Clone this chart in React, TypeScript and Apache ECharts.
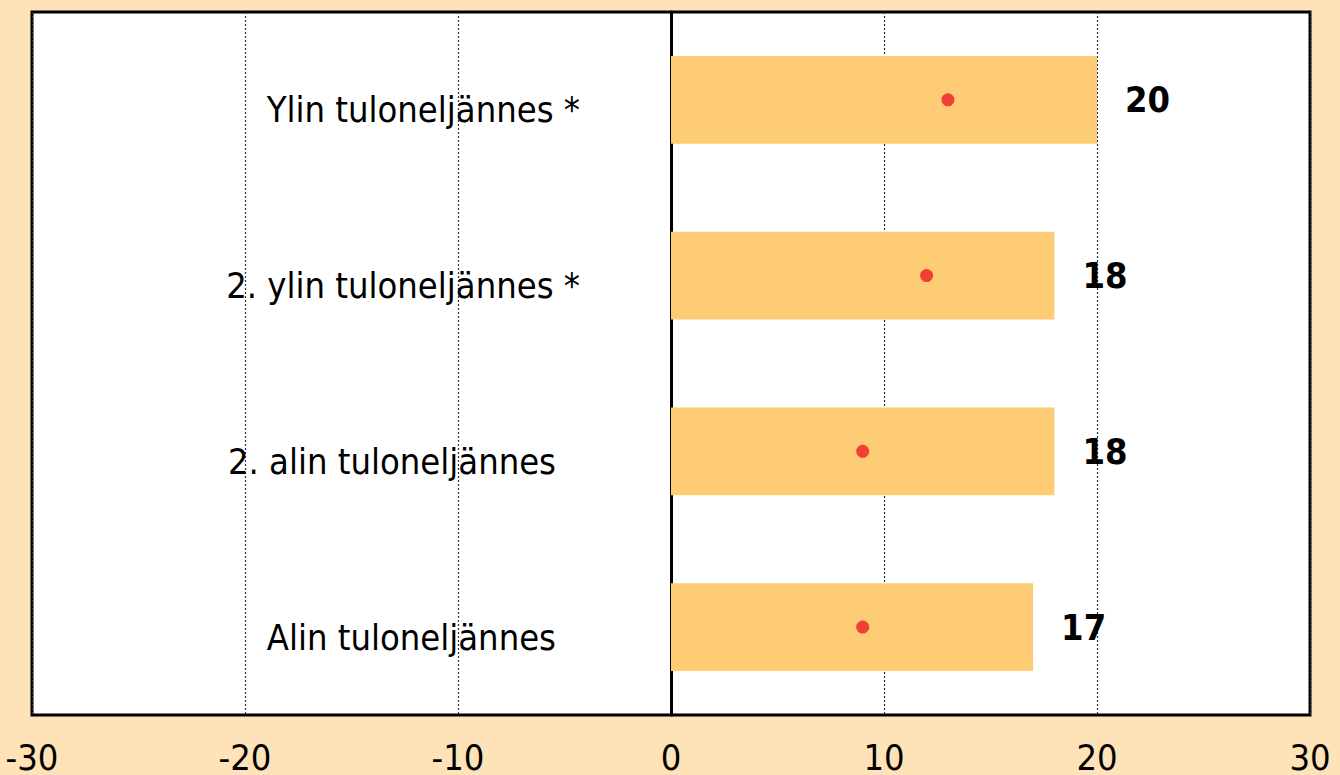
import React, { useEffect, useRef } from "react";
import * as echarts from "echarts";

const categories = [
  "Alin tuloneljännes",
  "2. alin tuloneljännes",
  "2. ylin tuloneljännes *",
  "Ylin tuloneljännes *",
];
const barValues = [17, 18, 18, 20];
const dotValues = [9, 9, 12, 13];
const xTicks = { min: -30, max: 30, interval: 10 };

const FONT = "'Liberation Sans Narrow', 'DejaVu Sans Condensed', 'Arial Narrow', sans-serif";

export default function App() {
  const ref = useRef<HTMLDivElement>(null);
  useEffect(() => {
    document.body.style.margin = "0";
    const chart = echarts.init(ref.current!, null, { renderer: "svg" });
    chart.setOption({
      animation: false,
      backgroundColor: "#FDE3B7",
      textStyle: { fontFamily: FONT },
      grid: {
        left: 32,
        right: 30,
        top: 12,
        bottom: 60,
        containLabel: false,
        outerBoundsMode: "none",
        show: true,
        backgroundColor: "#FFFFFF",
        borderColor: "#000000",
        borderWidth: 3,
      },
      xAxis: {
        type: "value",
        min: xTicks.min,
        max: xTicks.max,
        interval: xTicks.interval,
        axisLine: { show: false },
        axisTick: { show: false },
        axisLabel: {
          fontSize: 36,
          color: "#000",
          margin: 24,
          fontFamily: FONT,
        },
        splitLine: {
          show: true,
          lineStyle: { type: [2, 2], color: "#333", width: 1.2 },
        },
      },
      yAxis: {
        type: "category",
        data: categories,
        axisLine: { show: true, onZero: true, lineStyle: { color: "#000", width: 3 } },
        axisTick: { show: false },
        splitLine: { show: false },
        axisLabel: {
          inside: true,
          margin: 548,
          align: "right",
          color: "#000",
          fontSize: 36,
          fontFamily: FONT,
          padding: [20, 0, 0, 0],
          formatter: (v: string) => (v.endsWith("*") ? `{a|${v}}` : `{a|${v}}{s|}`),
          rich: {
            a: { fontSize: 36, color: "#000", fontFamily: FONT },
            s: { width: 24 },
          },
        },
      },
      series: [
        {
          type: "bar",
          data: barValues,
          barWidth: "50%",
          itemStyle: { color: "#FDCC74" },
          label: {
            show: true,
            position: "right",
            distance: 28,
            fontSize: 36,
            fontWeight: "bold",
            color: "#000",
            fontFamily: FONT,
          },
        },
        {
          type: "scatter",
          data: dotValues.map((v, i) => [v, categories[i]]),
          symbol: "circle",
          symbolSize: 13,
          itemStyle: { color: "#EE1C25" },
          z: 5,
        },
      ],
    });
    return () => chart.dispose();
  }, []);
  return (
    <div
      ref={ref}
      style={{ position: "fixed", left: 0, top: 0, width: 1340, height: 775 }}
    />
  );
}
